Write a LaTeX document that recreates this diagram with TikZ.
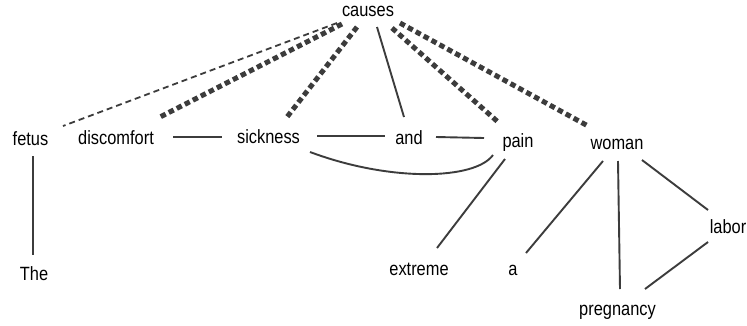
\documentclass[tikz,border=0pt]{standalone}
\usepackage{fontspec}
\usepackage{graphicx}
\setmainfont{Liberation Sans}
\usetikzlibrary{calc}
\definecolor{edgecol}{HTML}{3C3C3C}
\newcommand{\tallword}[1]{\scalebox{1}[1.17]{#1}}
\tikzset{
  word/.style={anchor=base, inner sep=0pt, font=\fontsize{16.4}{18}\selectfont, text=black},
  plain/.style={draw=edgecol, line width=1.9pt},
  thindash/.style={draw=edgecol, line width=1.8pt, dash pattern=on 6pt off 4pt},
  thickdot/.style={draw=edgecol, line width=5pt, dash pattern=on 5.5pt off 3.5pt}
}
\begin{document}
\begin{tikzpicture}[x=1pt,y=-1pt]
\useasboundingbox (0,0) rectangle (747,325);
\fill[white] (0,0) rectangle (747,325);
% words
\node[word] (causes) at (368,16) {\tallword{causes}};
\node[word] (fetus) at (30.5,145) {\tallword{fetus}};
\node[word] (discomfort) at (116,144) {\tallword{discomfort}};
\node[word] (sickness) at (268.5,143) {\tallword{sickness}};
\node[word] (and) at (409,144) {\tallword{and}};
\node[word] (pain) at (518,147) {\tallword{pain}};
\node[word] (woman) at (617,149) {\tallword{woman}};
\node[word] (The) at (34,280) {\tallword{The}};
\node[word] (extreme) at (419,275) {\tallword{extreme}};
\node[word] (a) at (513,275) {\tallword{a}};
\node[word] (pregnancy) at (617.5,315) {\tallword{pregnancy}};
\node[word] (labor) at (728,233) {\tallword{labor}};
% connectors from causes
\draw[thindash] ($(causes.base)+(-31,7)$) -- ($(fetus.base)+(32.5,-19)$);
\draw[thickdot] ($(causes.base)+(-26,8)$) -- ($(discomfort.base)+(44,-27)$);
\draw[thickdot] ($(causes.base)+(-11,11)$) -- ($(sickness.base)+(18.5,-26)$);
\draw[plain] ($(causes.base)+(9,11)$) -- ($(and.base)+(-5,-27)$);
\draw[thickdot] ($(causes.base)+(24,12)$) -- ($(pain.base)+(-20,-25)$);
\draw[thickdot] ($(causes.base)+(32,7)$) -- ($(woman.base)+(-29,-23)$);
% middle row
\draw[plain] ($(discomfort.base)+(57,-7)$) -- ($(sickness.base)+(-46.5,-6)$);
\draw[plain] ($(sickness.base)+(48.5,-7)$) -- ($(and.base)+(-24,-8)$);
\draw[plain] ($(and.base)+(27,-7)$) -- ($(pain.base)+(-34,-9)$);
\draw[plain] ($(sickness.base)+(41.5,9)$) .. controls ($(sickness.base)+(121.5,39)$) and ($(pain.base)+(-43,33)$) .. ($(pain.base)+(-25,8)$);
% lower connectors
\draw[plain] ($(fetus.base)+(2.5,11)$) -- ($(The.base)+(-1,-25)$);
\draw[plain] ($(pain.base)+(-13,12)$) -- ($(extreme.base)+(18,-27)$);
\draw[plain] ($(woman.base)+(-14,12)$) -- ($(a.base)+(13,-22)$);
\draw[plain] ($(woman.base)+(1,12)$) -- ($(pregnancy.base)+(2.5,-26)$);
\draw[plain] ($(woman.base)+(25,11)$) -- ($(labor.base)+(-20,-23)$);
\draw[plain] ($(labor.base)+(-20,9)$) -- ($(pregnancy.base)+(27.5,-26)$);
\end{tikzpicture}
\end{document}
